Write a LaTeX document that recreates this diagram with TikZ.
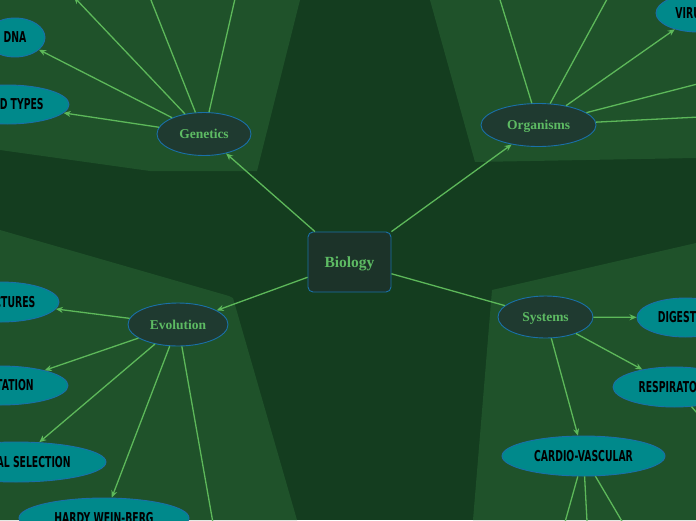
\documentclass[tikz,border=0pt]{standalone}
\usepackage{fontspec}
\usepackage{graphicx}
\setmainfont{Liberation Serif}
\newfontfamily\leaffont{DejaVu Sans}
\usetikzlibrary{shapes.geometric,arrows.meta}
\definecolor{bgcol}{HTML}{143D1F}
\definecolor{panelcol}{HTML}{1F522A}
\definecolor{edgecol}{HTML}{5DB85A}
\definecolor{mainfill}{HTML}{1F3A30}
\definecolor{biofill}{HTML}{1C3329}
\definecolor{bordercol}{HTML}{1A70A8}
\definecolor{leaffill}{HTML}{00898B}
\definecolor{maintext}{HTML}{5DBB63}
\newcommand{\leaftxt}[1]{\scalebox{0.62}[1]{#1}}
\begin{document}
\begin{tikzpicture}[x=1pt,y=-1pt,
  mainnode/.style={ellipse,draw=bordercol,fill=mainfill,line width=0.9pt,text=maintext,
    font=\bfseries\fontsize{13.5}{13.5}\selectfont,inner sep=0pt,text depth=0pt},
  leaf/.style={ellipse,draw=bordercol,fill=leaffill,line width=0.9pt,text=black,
    font=\leaffont\bfseries\fontsize{15}{15}\selectfont,inner sep=0pt},
  conn/.style={draw=edgecol,line width=1.3pt,-{Stealth[length=7pt,width=6pt]}},
  plain/.style={draw=edgecol,line width=1.3pt}]
\useasboundingbox (0,0) rectangle (696,520);
\clip (0,0) rectangle (696,520);
\fill[bgcol] (0,0) rectangle (696,520);
% panels
\fill[panelcol] (0,0) -- (300,0) -- (257,171) -- (150,171) -- (0,150) -- cycle;
\fill[panelcol] (430,0) -- (696,0) -- (696,158) -- (475,162) -- cycle;
\fill[panelcol] (0,230) -- (229,296) -- (233,298) -- (297,520) -- (0,520) -- cycle;
\fill[panelcol] (492,290) -- (696,243) -- (696,520) -- (473,520) -- cycle;

% central node
\node[draw=bordercol,fill=biofill,line width=0.9pt,rounded corners=5pt,
  minimum width=83pt,minimum height=60pt,text=maintext,text depth=0pt,
  font=\bfseries\fontsize{15.5}{15.5}\selectfont] (bio) at (349.5,262) {Biology};

% main nodes
\node[mainnode,minimum width=94pt,minimum height=43pt] (gen) at (204,134) {Genetics};
\node[mainnode,minimum width=115pt,minimum height=43pt] (org) at (538.5,125) {Organisms};
\node[mainnode,minimum width=100pt,minimum height=43pt] (evo) at (178,324.5) {Evolution};
\node[mainnode,minimum width=95pt,minimum height=42pt] (sys) at (545.5,317) {Systems};

% leaves
\node[leaf,minimum width=60pt,minimum height=39pt] (dna) at (15,37.5) {\leaftxt{DNA}};
\node[leaf,minimum width=123pt,minimum height=39pt] (blood) at (7.5,104.5) {\leaftxt{BLOOD TYPES}};
\node[leaf,minimum width=84pt,minimum height=38pt] (vir) at (698,13) {\leaftxt{VIRUSES}};
\node[leaf,minimum width=116pt,minimum height=40pt] (struct) at (1,302) {\leaftxt{STRUCTURES}};
\node[leaf,minimum width=135pt,minimum height=39pt] (adapt) at (0.5,385.5) {\leaftxt{ADAPTATION}};
\node[leaf,minimum width=180pt,minimum height=40pt] (natsel) at (16,462) {\leaftxt{NATURAL SELECTION}};
\node[leaf,minimum width=170pt,minimum height=40pt] (hardy) at (104,518) {\leaftxt{HARDY WEIN-BERG}};
\node[leaf,minimum width=97pt,minimum height=39pt] (dig) at (685.5,317.5) {\leaftxt{DIGESTIVE}};
\node[leaf,minimum width=123pt,minimum height=40pt] (resp) at (674.5,387) {\leaftxt{RESPIRATORY}};
\node[leaf,minimum width=163pt,minimum height=40pt] (cardio) at (583.5,456) {\leaftxt{CARDIO-VASCULAR}};

% off-canvas ends
\coordinate (g1) at (74,-3);
\coordinate (g2) at (147,-10);
\coordinate (g3) at (237,-10);
\coordinate (o1) at (497,-10);
\coordinate (o2) at (612,-10);
\coordinate (o3) at (740,73);
\coordinate (o4) at (740,115);
\coordinate (e1) at (216,540);
\coordinate (c1) at (560,540);
\coordinate (c2) at (588,540);
\coordinate (c3) at (633,540);
\coordinate (r1) at (710,428);

% connectors from the centre
\draw[conn] (bio) -- (gen);
\draw[conn] (bio) -- (org);
\draw[conn] (bio) -- (evo);
\draw[plain] (bio) -- (sys);

% genetics
\draw[conn] (gen) -- (dna);
\draw[conn] (gen) -- (blood);
\draw[conn] (gen) -- (g1);
\draw[conn] (gen) -- (g2);
\draw[conn] (gen) -- (g3);

% organisms
\draw[conn] (org) -- (o1);
\draw[conn] (org) -- (o2);
\draw[conn] (org) -- (vir);
\draw[conn] (org) -- (o3);
\draw[conn] (org) -- (o4);

% evolution
\draw[conn] (evo) -- (struct);
\draw[conn] (evo) -- (adapt);
\draw[conn] (evo) -- (natsel);
\draw[conn] (evo) -- (hardy);
\draw[conn] (evo) -- (e1);

% systems
\draw[conn] (sys) -- (dig);
\draw[conn] (sys) -- (resp);
\draw[conn] (sys) -- (cardio);
\draw[conn] (cardio) -- (c1);
\draw[conn] (cardio) -- (c2);
\draw[conn] (cardio) -- (c3);
\draw[conn] (resp) -- (r1);
\end{tikzpicture}
\end{document}
